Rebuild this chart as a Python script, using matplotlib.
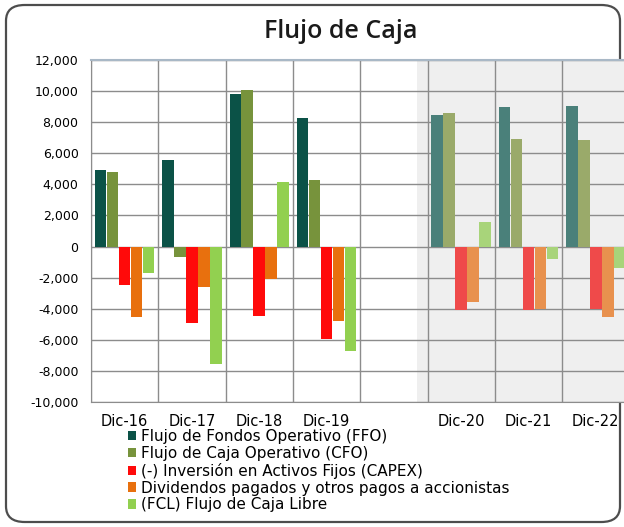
import matplotlib
matplotlib.use("Agg")
import matplotlib.pyplot as plt
import numpy as np
from matplotlib.patches import FancyBboxPatch, Patch, Rectangle

categories = ["Dic-16", "Dic-17", "Dic-18", "Dic-19", "", "Dic-20", "Dic-21", "Dic-22"]
series_names = [
    "Flujo de Fondos Operativo (FFO)",
    "Flujo de Caja Operativo (CFO)",
    "(-) Inversión en Activos Fijos (CAPEX)",
    "Dividendos pagados y otros pagos a accionistas",
    "(FCL) Flujo de Caja Libre",
]
ffo = [4900, 5550, 9800, 8300, None, 8430, 8960, 9050]
cfo = [4800, -700, 10100, 4250, None, 8580, 6900, 6850]
capex = [-2500, -4900, -4450, -5950, None, -4070, -4070, -4020]
divid = [-4550, -2580, -2080, -4780, None, -3540, -4020, -4550]
fcl = [-1700, -7550, 4130, -6750, None, 1550, -800, -1400]
yticks = list(range(-10000, 12001, 2000))

series = [ffo, cfo, capex, divid, fcl]
colors_hist = ["#0b5247", "#77933c", "#ff0a0a", "#e8700e", "#92d050"]
colors_proj = ["#4a807a", "#9aaa6a", "#ef4a4a", "#e8914e", "#a8d47a"]
proj_start = 5

W, H = 624, 527
fig = plt.figure(figsize=(W / 100, H / 100), dpi=100)
fig.patch.set_facecolor("white")

border = FancyBboxPatch((6 / W, 5 / H), 614 / W, 517 / H,
                        boxstyle="round,pad=0,rounding_size=0.03",
                        transform=fig.transFigure, facecolor="white",
                        edgecolor="#4d4d4d", linewidth=1.6, zorder=-5)
fig.patches.append(border)

slot = 67.3
left_px, top_px, bot_px = 91, 60, 402
ax = fig.add_axes([left_px / W, 1 - bot_px / H, 8 * slot / W, (bot_px - top_px) / H])
ax.set_facecolor("white")
n = len(categories)
x = np.arange(n)
ax.set_xlim(-0.5, n - 0.5)
ax.set_ylim(-10000, 12000)

# shaded projection region
ax.add_patch(Rectangle((4.34, -10000), 10, 22000, facecolor="#efefef",
                       edgecolor="none", zorder=0))

bw, step = 0.172, 0.178
for i, (vals, ch, cp) in enumerate(zip(series, colors_hist, colors_proj)):
    for j, v in enumerate(vals):
        if v is None:
            continue
        c = cp if j >= proj_start else ch
        ax.bar(x[j] + (i - 2) * step, v, width=bw, color=c, zorder=3)

ax.set_yticks(yticks)
ax.set_yticklabels([f"{t:,}" for t in yticks], fontsize=9)
ax.set_xticks(x)
ax.set_xticklabels(categories, fontsize=10.5)
ax.set_xticks(np.arange(-0.5, n, 1), minor=True)
ax.tick_params(axis="both", which="both", length=0)
ax.tick_params(axis="y", pad=9)
ax.tick_params(axis="x", pad=9)
ax.grid(True, axis="y", which="major", color="#8c8c8c", linewidth=1, zorder=1)
ax.grid(True, axis="x", which="minor", color="#8c8c8c", linewidth=1, zorder=1)
ax.grid(False, axis="x", which="major")
ax.set_axisbelow(True)
for s in ["left", "bottom", "right"]:
    ax.spines[s].set_color("#8c8c8c")
ax.spines["top"].set_color("#a9b8c6")
ax.spines["top"].set_linewidth(1.5)

fig.text(341 / W, 1 - 31 / H, "Flujo de Caja", ha="center", va="center",
         fontsize=18, fontweight="semibold", family="Open Sans", color="#1a1a1a")

handles = [Patch(facecolor=c, edgecolor="none") for c in colors_hist]
fig.legend(handles, series_names, loc="upper left",
           bbox_to_anchor=(128 / W, 1 - 429 / H), frameon=False,
           fontsize=11, labelspacing=0.12, handlelength=0.55, handleheight=0.55,
           handletextpad=0.3, borderpad=0, borderaxespad=0)

fig.savefig("out.png", dpi=100)
